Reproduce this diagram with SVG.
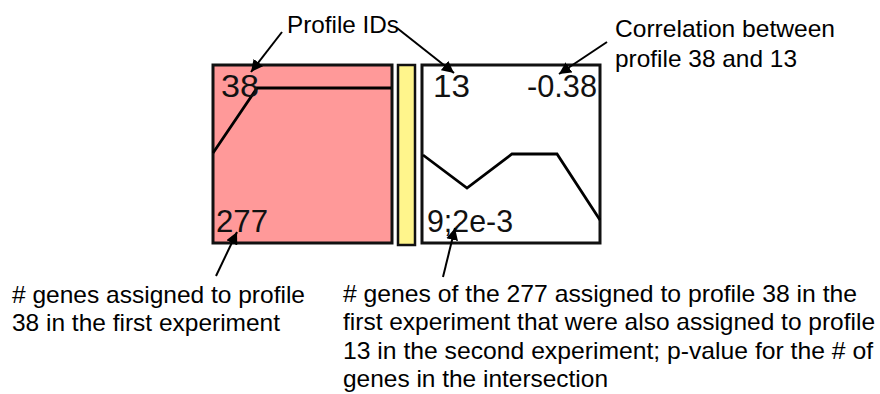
<svg xmlns="http://www.w3.org/2000/svg" width="880" height="394" viewBox="0 0 880 394">
<style>
.lbl{font-family:"Liberation Sans",Arial,sans-serif;font-size:24px;fill:#000}
.num{font-family:"Liberation Sans",Arial,sans-serif;font-size:32px;fill:#111}
.box{stroke:#111;stroke-width:3}
.prof{fill:none;stroke:#000;stroke-width:2.8;stroke-linejoin:miter}
.arr{fill:none;stroke:#000;stroke-width:2;marker-end:url(#ah)}
</style>
<defs>
<marker id="ah" viewBox="0 0 10 10" refX="10" refY="5" markerWidth="6" markerHeight="6" orient="auto" markerUnits="strokeWidth">
<path d="M0,0 L10,5 L0,10 Z" fill="#000"/>
</marker>
</defs>
<rect width="880" height="394" fill="#fff"/>
<g id="profile38">
<rect class="box" x="213" y="65" width="179" height="178" fill="#FF9999"/>
<polyline class="prof" points="213,153 257,88 391,88"/>
<text class="num" x="221" y="97" textLength="38" lengthAdjust="spacingAndGlyphs">38</text>
<text class="num" x="216" y="232" textLength="52" lengthAdjust="spacingAndGlyphs">277</text>
</g>
<g id="bar">
<rect x="398" y="65" width="17" height="180" fill="#FFF58C" stroke="#111" stroke-width="2.5"/>
</g>
<g id="profile13">
<rect class="box" x="422" y="65" width="178" height="178" fill="#fff"/>
<polyline class="prof" points="423,155 467,188 512,154 557,154 600,220"/>
<text class="num" x="433" y="97" textLength="37" lengthAdjust="spacingAndGlyphs">13</text>
<text class="num" x="527" y="97" textLength="70" lengthAdjust="spacingAndGlyphs">-0.38</text>
<text class="num" x="427" y="232" textLength="86" lengthAdjust="spacingAndGlyphs">9;2e-3</text>
</g>
<g id="labels">
<text class="lbl" x="287" y="33" textLength="112" lengthAdjust="spacingAndGlyphs">Profile IDs</text>
<text class="lbl" x="615" y="37" textLength="220" lengthAdjust="spacingAndGlyphs">Correlation between</text>
<text class="lbl" x="615" y="67" textLength="182" lengthAdjust="spacingAndGlyphs">profile 38 and 13</text>
<text class="lbl" x="12" y="303" textLength="293" lengthAdjust="spacingAndGlyphs"># genes assigned to profile</text>
<text class="lbl" x="12" y="331" textLength="268" lengthAdjust="spacingAndGlyphs">38 in the first experiment</text>
<text class="lbl" x="343" y="302" textLength="514" lengthAdjust="spacingAndGlyphs"># genes of the 277 assigned to profile 38 in the</text>
<text class="lbl" x="343" y="330" textLength="532" lengthAdjust="spacingAndGlyphs">first experiment that were also assigned to profile</text>
<text class="lbl" x="343" y="359" textLength="530" lengthAdjust="spacingAndGlyphs">13 in the second experiment; p-value for the # of</text>
<text class="lbl" x="343" y="387" textLength="265" lengthAdjust="spacingAndGlyphs">genes in the intersection</text>
</g>
<g id="connectors">
<line class="arr" x1="282" y1="32" x2="251" y2="72"/>
<line class="arr" x1="397" y1="28" x2="454" y2="73"/>
<line class="arr" x1="607" y1="42" x2="559" y2="74"/>
<line class="arr" x1="216" y1="276" x2="237" y2="232"/>
<line class="arr" x1="443" y1="277" x2="455" y2="228"/>
</g>
</svg>
